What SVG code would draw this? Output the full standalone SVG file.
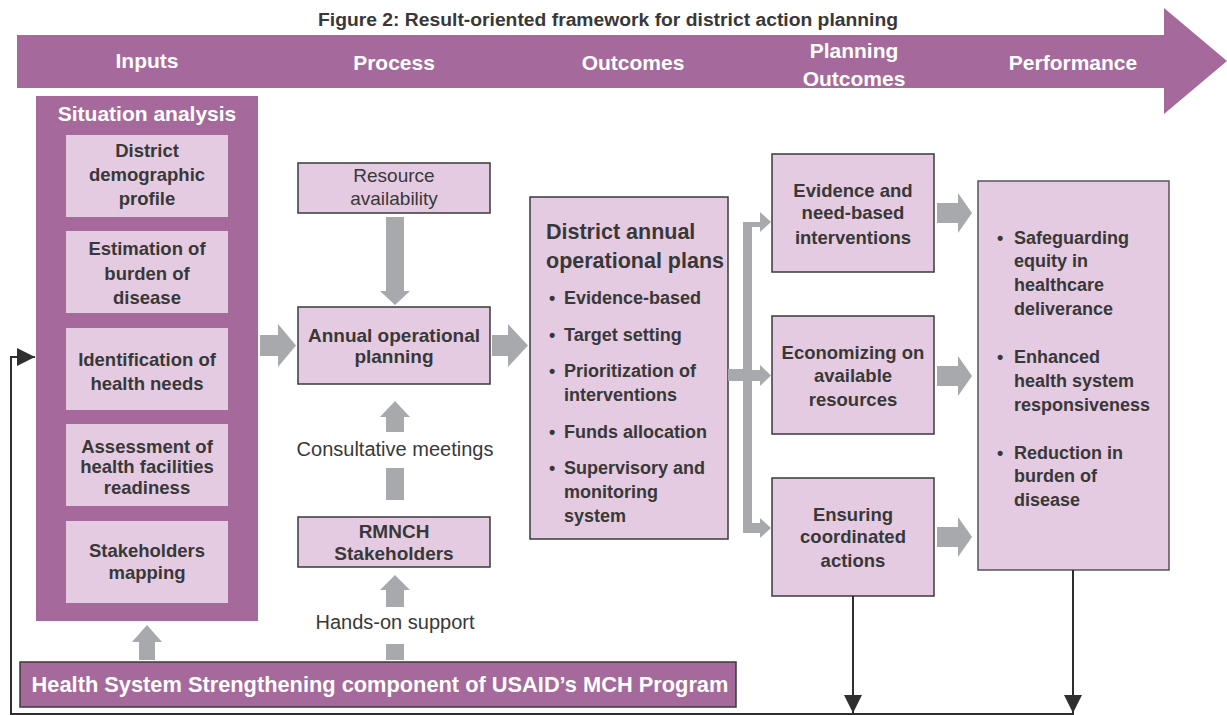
<svg xmlns="http://www.w3.org/2000/svg" width="1227" height="715" viewBox="0 0 1227 715">
<defs>
<style>
text{font-family:"Liberation Sans",Arial,sans-serif;fill:#383838}
.b{font-weight:bold}
.w{fill:#ffffff;font-weight:bold}
.c{text-anchor:middle}
.pk{fill:#E5CBE1;stroke:#3a3a3a;stroke-width:1.5}
.pi{fill:#E5CBE1}
.pu{fill:#A56A9B}
.g{fill:#A7A9AC}
.s185{font-size:18.5px}
.s18{font-size:18px}
.ln{fill:none;stroke:#2f2f2f;stroke-width:2}
</style>
<marker id="ah" viewBox="0 0 10 10" refX="10" refY="5" markerWidth="18" markerHeight="18" markerUnits="userSpaceOnUse" orient="auto">
<path d="M0,0 L10,5 L0,10 z" fill="#2f2f2f"/>
</marker>
</defs>
<rect width="1227" height="715" fill="#ffffff"/>

<g id="title">
<text x="608" y="26" class="b c" font-size="17.5" textLength="580" lengthAdjust="spacingAndGlyphs">Figure 2: Result-oriented framework for district action planning</text>
</g>

<g id="banner">
<polygon class="pu" points="17,35 1164,35 1164,8 1227,61 1164,114 1164,88 17,88"/>
<text x="147" y="67.5" class="w c" font-size="21">Inputs</text>
<text x="394" y="69.5" class="w c" font-size="21">Process</text>
<text x="633" y="69.5" class="w c" font-size="21">Outcomes</text>
<text x="854" y="57.5" class="w c" font-size="21">Planning</text>
<text x="854" y="85.5" class="w c" font-size="21">Outcomes</text>
<text x="1073" y="69.5" class="w c" font-size="21">Performance</text>
</g>

<g id="situation-analysis">
<rect class="pu" x="36" y="96" width="222" height="525"/>
<text x="147" y="121" class="w c" font-size="21">Situation analysis</text>
</g>
<g id="sa-demographic">
<rect class="pi" x="66" y="135" width="162" height="82"/>
<text class="b c s185" x="147" y="157">District</text>
<text class="b c s185" x="147" y="181">demographic</text>
<text class="b c s185" x="147" y="205">profile</text>
</g>
<g id="sa-burden">
<rect class="pi" x="66" y="231" width="162" height="82"/>
<text class="b c s185" x="147" y="255">Estimation of</text>
<text class="b c s185" x="147" y="280">burden of</text>
<text class="b c s185" x="147" y="304">disease</text>
</g>
<g id="sa-needs">
<rect class="pi" x="66" y="328" width="162" height="82"/>
<text class="b c s185" x="147" y="366">Identification of</text>
<text class="b c s185" x="147" y="390">health needs</text>
</g>
<g id="sa-facilities">
<rect class="pi" x="66" y="424" width="162" height="82"/>
<text class="b c s185" x="147" y="453">Assessment of</text>
<text class="b c s185" x="147" y="473">health facilities</text>
<text class="b c s185" x="147" y="494">readiness</text>
</g>
<g id="sa-stakeholders">
<rect class="pi" x="66" y="521" width="162" height="82"/>
<text class="b c s185" x="147" y="557">Stakeholders</text>
<text class="b c s185" x="147" y="579">mapping</text>
</g>

<g id="resource">
<rect class="pk" x="298" y="163" width="192" height="50"/>
<text class="c" font-size="19" x="394" y="181.5">Resource</text>
<text class="c" font-size="19" x="394" y="204.5">availability</text>
</g>
<g id="annual-planning">
<rect class="pk" x="298" y="307" width="192" height="77"/>
<text class="b c" font-size="19" x="394" y="341.5">Annual operational</text>
<text class="b c" font-size="19" x="394" y="362.5">planning</text>
</g>
<g id="consultative">
<text class="c" font-size="20" x="395" y="456">Consultative meetings</text>
</g>
<g id="rmnch">
<rect class="pk" x="298" y="517" width="192" height="50"/>
<text class="b c" font-size="19" x="394" y="537.5">RMNCH</text>
<text class="b c" font-size="19" x="394" y="559.5">Stakeholders</text>
</g>
<g id="handson">
<text class="c" font-size="20" x="395" y="629">Hands-on support</text>
</g>

<g id="hss">
<rect x="20" y="662" width="716" height="45" fill="#A56A9B" stroke="#3a3a3a" stroke-width="1.5"/>
<text class="w c" font-size="21.8" x="380" y="691.5">Health System Strengthening component of USAID’s MCH Program</text>
</g>

<g id="district-plans">
<rect class="pk" x="530" y="197" width="198" height="342"/>
<text class="b" font-size="21.5" x="546" y="238.5">District annual</text>
<text class="b" font-size="21.5" x="546" y="267.5">operational plans</text>
<g class="b s18">
<text x="549" y="303.5">•</text><text x="564" y="303.5">Evidence-based</text>
<text x="549" y="340.5">•</text><text x="564" y="340.5">Target setting</text>
<text x="549" y="376.5">•</text><text x="564" y="376.5">Prioritization of</text>
<text x="564" y="400.5">interventions</text>
<text x="549" y="437.5">•</text><text x="564" y="437.5">Funds allocation</text>
<text x="549" y="473.5">•</text><text x="564" y="473.5">Supervisory and</text>
<text x="564" y="497.5">monitoring</text>
<text x="564" y="521.5">system</text>
</g>
</g>

<g id="evidence">
<rect class="pk" x="772" y="154" width="162" height="118"/>
<text class="b c s185" x="853" y="196.5">Evidence and</text>
<text class="b c s185" x="853" y="219">need-based</text>
<text class="b c s185" x="853" y="243.5">interventions</text>
</g>
<g id="economizing">
<rect class="pk" x="772" y="316" width="162" height="118"/>
<text class="b c s185" x="853" y="358.5">Economizing on</text>
<text class="b c s185" x="853" y="381.5">available</text>
<text class="b c s185" x="853" y="405.5">resources</text>
</g>
<g id="ensuring">
<rect class="pk" x="772" y="478" width="162" height="118"/>
<text class="b c s185" x="853" y="520.5">Ensuring</text>
<text class="b c s185" x="853" y="543">coordinated</text>
<text class="b c s185" x="853" y="567">actions</text>
</g>

<g id="performance">
<rect x="978" y="181" width="191" height="389" fill="#E5CBE1" stroke="#555" stroke-width="1.5"/>
<g class="b s18">
<text x="997" y="243.5">•</text><text x="1014" y="243.5">Safeguarding</text>
<text x="1014" y="266.5">equity in</text>
<text x="1014" y="290.5">healthcare</text>
<text x="1014" y="314.5">deliverance</text>
<text x="997" y="362.5">•</text><text x="1014" y="362.5">Enhanced</text>
<text x="1014" y="386.5">health system</text>
<text x="1014" y="410.5">responsiveness</text>
<text x="997" y="458.5">•</text><text x="1014" y="458.5">Reduction in</text>
<text x="1014" y="481.5">burden of</text>
<text x="1014" y="505.5">disease</text>
</g>
</g>

<g id="connectors">
<g class="g">
<polygon points="260,335 278,335 278,324 296,345.5 278,367 278,356 260,356"/>
<polygon points="492,335 508,335 508,324 528,345.5 508,367 508,356 492,356"/>
<polygon points="386,217 404,217 404,291 410,291 395,305 380,291 386,291"/>
<polygon points="386,432 404,432 404,417 410,417 395,401 380,417 386,417"/>
<rect x="386" y="468" width="18" height="32"/>
<polygon points="386,607 404,607 404,590 410,590 395,575 380,590 386,590"/>
<rect x="386" y="644" width="18" height="16"/>
<polygon points="139,660 155,660 155,642 162,642 147,625 132,642 139,642"/>
<path d="M728,369 H743 V222 H760 V212 L771,222 L760,232 V227 H752 V370 H760 V365 L771,375.5 L760,386 V381 H752 V523 H760 V518 L771,528 L760,538 V533 H743 V381 H728 Z"/>
<polygon points="937,203 958,203 958,193 972,213 958,233 958,223 937,223"/>
<polygon points="937,366 958,366 958,356 972,376 958,396 958,386 937,386"/>
<polygon points="937,527 958,527 958,517 972,537 958,557 958,547 937,547"/>
</g>
<path class="ln" d="M853,596 V713" marker-end="url(#ah)"/>
<path class="ln" d="M1073,570 V713" marker-end="url(#ah)"/>
<path class="ln" d="M1074,714 H11 V357 H35" marker-end="url(#ah)"/>
</g>
</svg>
